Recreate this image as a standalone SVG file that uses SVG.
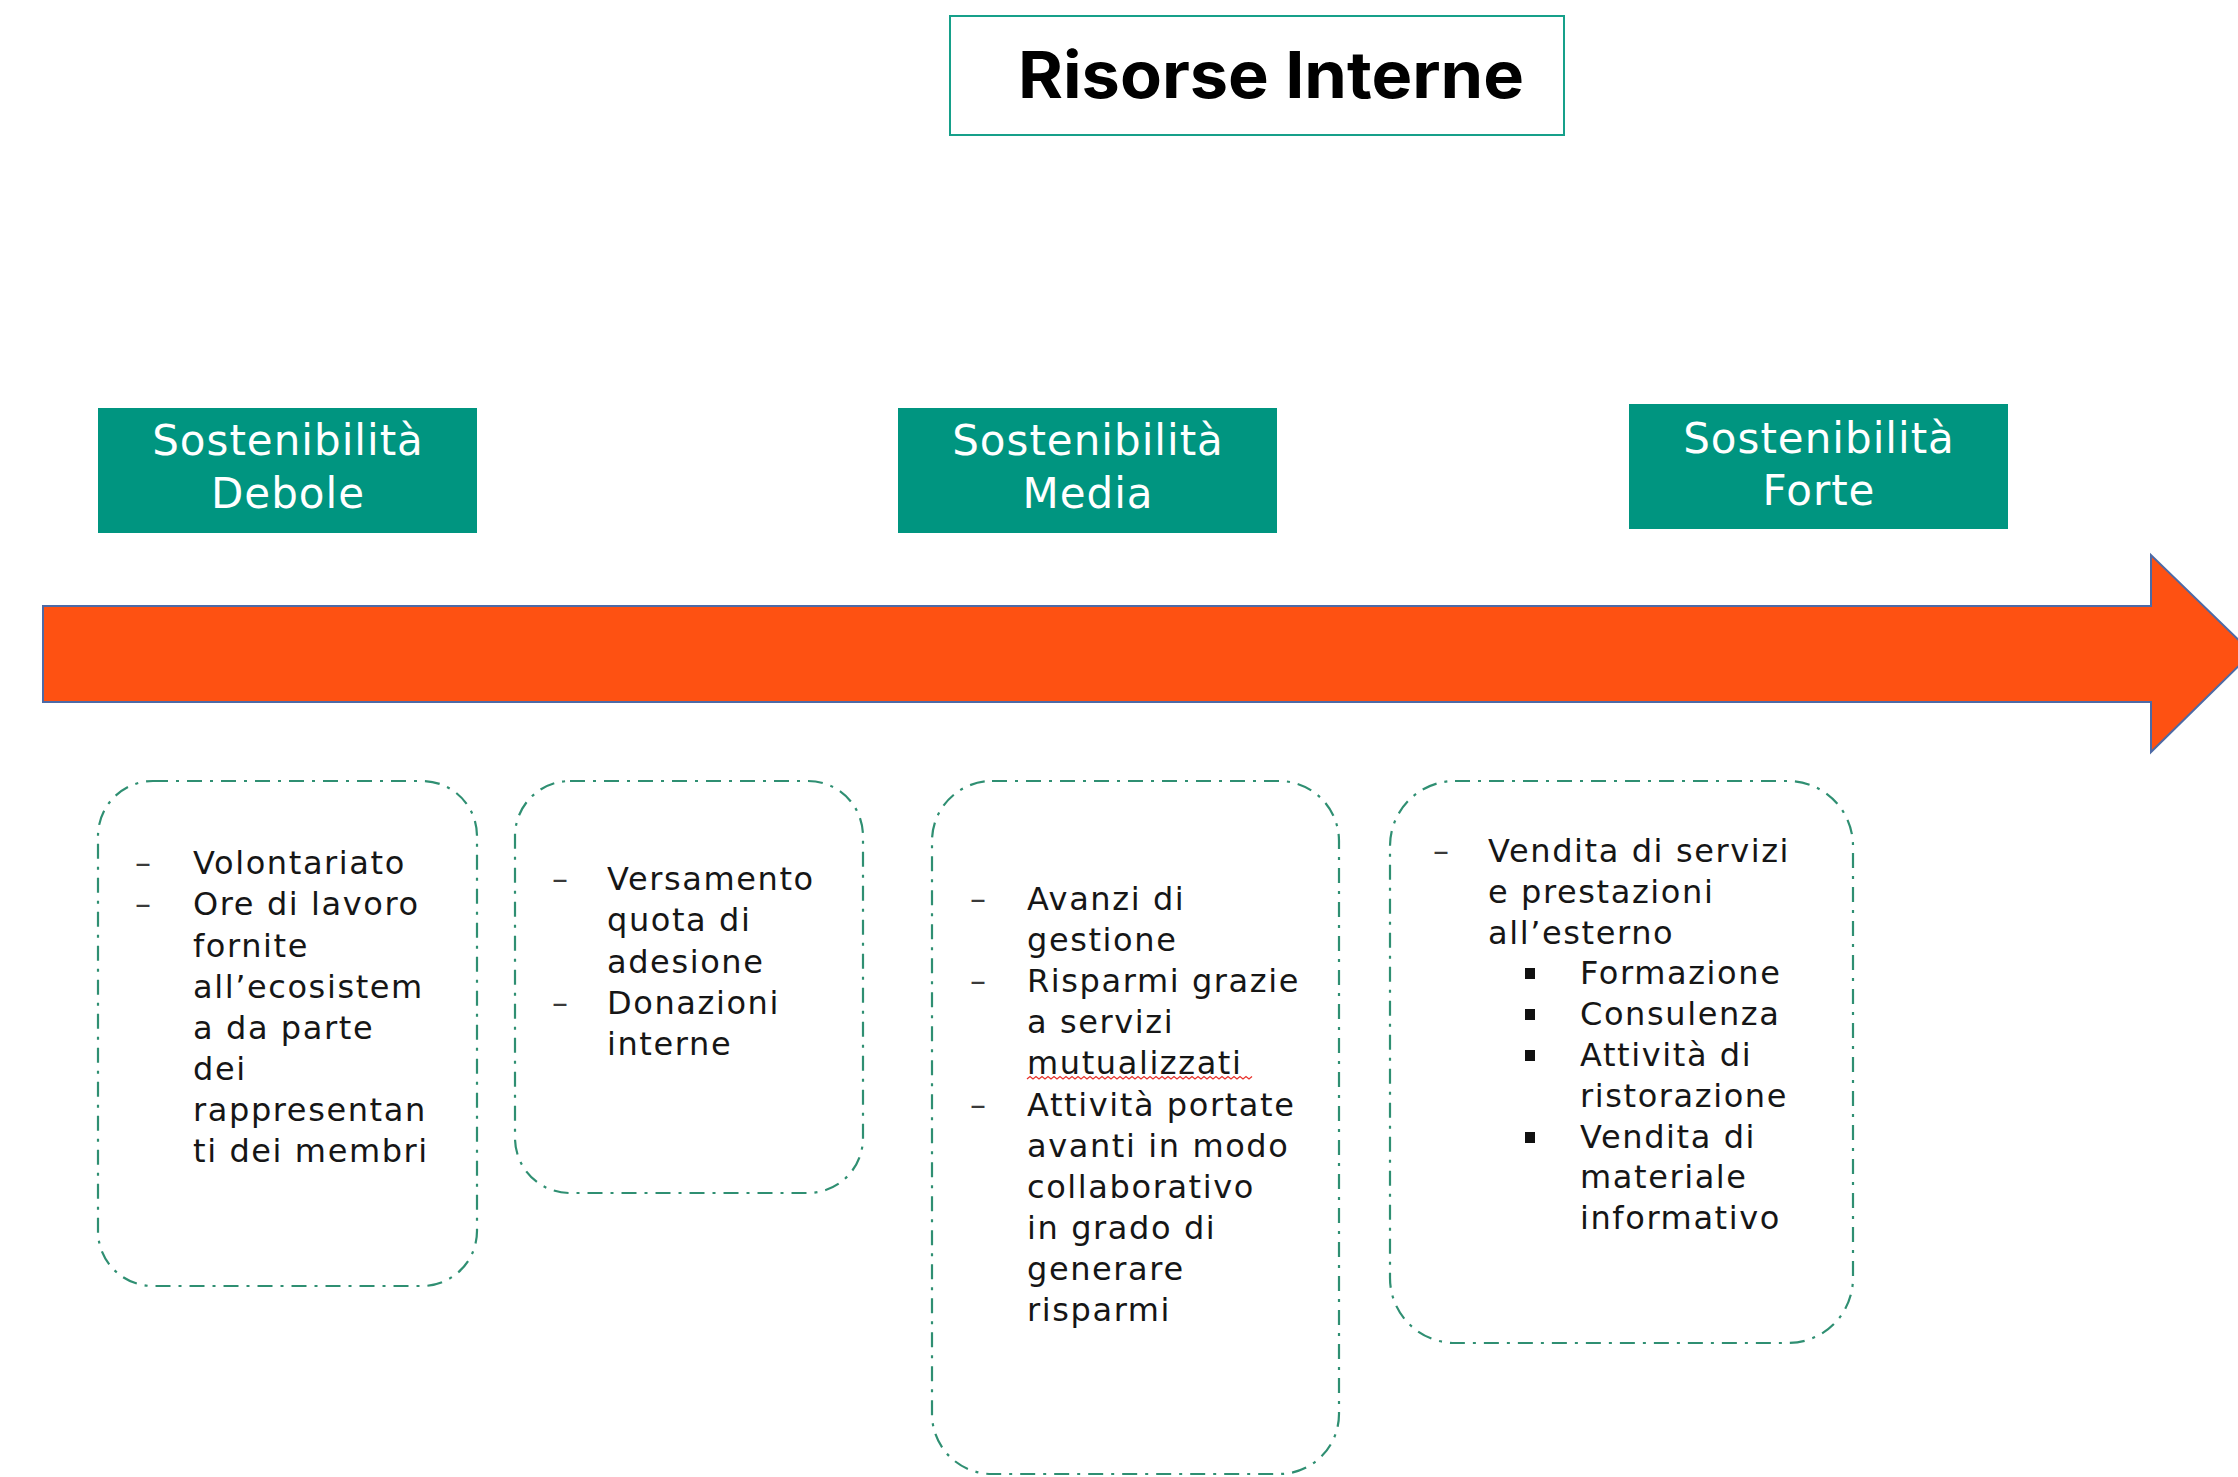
<svg xmlns="http://www.w3.org/2000/svg" width="2238" height="1477" viewBox="0 0 2238 1477">
<style>
.title{font-family:Inter,"Liberation Sans",sans-serif;font-weight:700;font-size:65px;fill:#000}
.hdr{fill:#009580}
.hdrt{font-family:"DejaVu Sans","Noto Sans",sans-serif;font-size:42px;fill:#fff;text-anchor:middle;letter-spacing:1px}
.box{fill:none;stroke:#2f8f72;stroke-width:2.2;stroke-dasharray:15 8 3 8}
.body{font-family:"DejaVu Sans","Noto Sans",sans-serif;font-size:32px;fill:#161616;letter-spacing:1.6px}
.dash{font-family:"DejaVu Sans",sans-serif;font-size:32px;fill:#3a3a3a}
.sq{fill:#111}
</style>
<rect width="2238" height="1477" fill="#fff"/>

<g id="title">
<rect x="950" y="16" width="614" height="119" fill="#fff" stroke="#16a08a" stroke-width="2"/>
<text class="title" x="1018" y="98" textLength="506" lengthAdjust="spacingAndGlyphs">Risorse Interne</text>
</g>

<g id="connectors">
<polygon points="43,606 2151,606 2151,555 2252,653 2151,752 2151,702 43,702" fill="#FE5112" stroke="#4d6aa6" stroke-width="2"/>
</g>

<g id="hdr-debole">
<rect class="hdr" x="98" y="408" width="379" height="125"/>
<text class="hdrt" x="288" y="455">Sostenibilità</text>
<text class="hdrt" x="288" y="508">Debole</text>
</g>
<g id="hdr-media">
<rect class="hdr" x="898" y="408" width="379" height="125"/>
<text class="hdrt" x="1088" y="455">Sostenibilità</text>
<text class="hdrt" x="1088" y="508">Media</text>
</g>
<g id="hdr-forte">
<rect class="hdr" x="1629" y="404" width="379" height="125"/>
<text class="hdrt" x="1819" y="453">Sostenibilità</text>
<text class="hdrt" x="1819" y="505">Forte</text>
</g>

<g id="box-debole">
<rect class="box" x="98" y="781" width="379" height="505" rx="55"/>
<text class="dash" x="135" y="874">–</text>
<text class="dash" x="135" y="915">–</text>
<text class="body" x="193" y="874">Volontariato</text>
<text class="body" x="193" y="915">Ore di lavoro</text>
<text class="body" x="193" y="957">fornite</text>
<text class="body" x="193" y="998">all’ecosistem</text>
<text class="body" x="193" y="1039">a da parte</text>
<text class="body" x="193" y="1080">dei</text>
<text class="body" x="193" y="1121">rappresentan</text>
<text class="body" x="193" y="1162">ti dei membri</text>
</g>

<g id="box-quote">
<rect class="box" x="515" y="781" width="348" height="412" rx="55"/>
<text class="dash" x="552" y="890">–</text>
<text class="dash" x="552" y="1014">–</text>
<text class="body" x="607" y="890">Versamento</text>
<text class="body" x="607" y="931">quota di</text>
<text class="body" x="607" y="973">adesione</text>
<text class="body" x="607" y="1014">Donazioni</text>
<text class="body" x="607" y="1055">interne</text>
</g>

<g id="box-media">
<rect class="box" x="932" y="781" width="407" height="693" rx="60"/>
<text class="dash" x="970" y="910">–</text>
<text class="dash" x="970" y="992">–</text>
<text class="dash" x="970" y="1116">–</text>
<text class="body" x="1027" y="910">Avanzi di</text>
<text class="body" x="1027" y="951">gestione</text>
<text class="body" x="1027" y="992">Risparmi grazie</text>
<text class="body" x="1027" y="1033">a servizi</text>
<text class="body" x="1027" y="1074">mutualizzati</text>
<path d="M1027,1079 l3,-2.5 l3,2.5 l3,-2.5 l3,2.5 l3,-2.5 l3,2.5 l3,-2.5 l3,2.5 l3,-2.5 l3,2.5 l3,-2.5 l3,2.5 l3,-2.5 l3,2.5 l3,-2.5 l3,2.5 l3,-2.5 l3,2.5 l3,-2.5 l3,2.5 l3,-2.5 l3,2.5 l3,-2.5 l3,2.5 l3,-2.5 l3,2.5 l3,-2.5 l3,2.5 l3,-2.5 l3,2.5 l3,-2.5 l3,2.5 l3,-2.5 l3,2.5 l3,-2.5 l3,2.5 l3,-2.5 l3,2.5 l3,-2.5 l3,2.5 l3,-2.5 l3,2.5 l3,-2.5 l3,2.5 l3,-2.5 l3,2.5 l3,-2.5 l3,2.5 l3,-2.5 l3,2.5 l3,-2.5 l3,2.5 l3,-2.5 l3,2.5 l3,-2.5 l3,2.5 l3,-2.5 l3,2.5 l3,-2.5 l3,2.5 l3,-2.5 l3,2.5 l3,-2.5 l3,2.5 l3,-2.5 l3,2.5 l3,-2.5 l3,2.5 l3,-2.5 l3,2.5 l3,-2.5 l3,2.5 l3,-2.5 l3,2.5 l3,-2.5" fill="none" stroke="#e8322c" stroke-width="1.3"/>
<text class="body" x="1027" y="1116">Attività portate</text>
<text class="body" x="1027" y="1157">avanti in modo</text>
<text class="body" x="1027" y="1198">collaborativo</text>
<text class="body" x="1027" y="1239">in grado di</text>
<text class="body" x="1027" y="1280">generare</text>
<text class="body" x="1027" y="1321">risparmi</text>
</g>

<g id="box-forte">
<rect class="box" x="1390" y="781" width="463" height="562" rx="65"/>
<text class="dash" x="1433" y="862">–</text>
<text class="body" x="1488" y="862">Vendita di servizi</text>
<text class="body" x="1488" y="903">e prestazioni</text>
<text class="body" x="1488" y="944">all’esterno</text>
<rect class="sq" x="1525" y="968" width="10" height="11"/>
<rect class="sq" x="1525" y="1009" width="10" height="11"/>
<rect class="sq" x="1525" y="1050" width="10" height="11"/>
<rect class="sq" x="1525" y="1132" width="10" height="11"/>
<text class="body" x="1580" y="984">Formazione</text>
<text class="body" x="1580" y="1025">Consulenza</text>
<text class="body" x="1580" y="1066">Attività di</text>
<text class="body" x="1580" y="1107">ristorazione</text>
<text class="body" x="1580" y="1148">Vendita di</text>
<text class="body" x="1580" y="1188">materiale</text>
<text class="body" x="1580" y="1229">informativo</text>
</g>
</svg>
